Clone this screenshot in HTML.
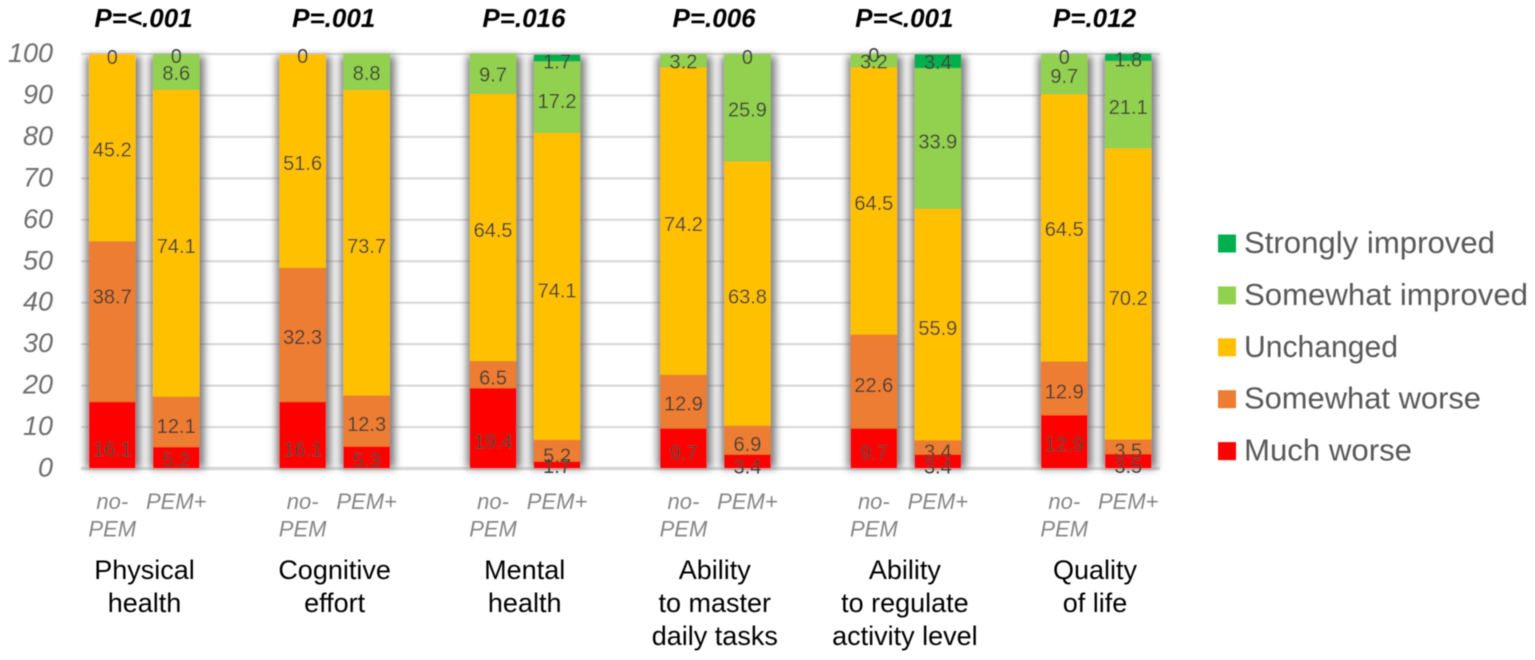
<!DOCTYPE html>
<html lang="en">
<head>
<meta charset="utf-8">
<title>Change by PEM status</title>
<style>
html,body{margin:0;padding:0;background:#fff;width:1535px;height:660px;overflow:hidden}
svg{display:block}
text{font-family:"Liberation Sans",sans-serif}
</style>
</head>
<body>
<svg id="chart" xmlns="http://www.w3.org/2000/svg" width="1535" height="660" viewBox="0 0 1535 660">
  <defs>
    <filter id="soft" x="0" y="0" width="100%" height="100%"><feGaussianBlur stdDeviation="0.55"/></filter>
    <filter id="shadow" x="-50%" y="-10%" width="200%" height="120%"><feGaussianBlur stdDeviation="4"/></filter>
  </defs>
  <g id="root" filter="url(#soft)"></g>
</svg>
<script>
const categories = [["Physical","health"],["Cognitive","effort"],["Mental","health"],["Ability","to master","daily tasks"],["Ability","to regulate","activity level"],["Quality","of life"]];
const pValues = ["P=<.001","P=.001","P=.016","P=.006","P=<.001","P=.012"];
const groups = [["no-","PEM"],["PEM+"]];
const yTicks = [0,10,20,30,40,50,60,70,80,90,100];

const seriesMuchWorse = [16.1,5.2,16.1,5.3,19.4,1.7,9.7,3.4,9.7,3.4,12.9,3.5];
const seriesSomewhatWorse = [38.7,12.1,32.3,12.3,6.5,5.2,12.9,6.9,22.6,3.4,12.9,3.5];
const seriesUnchanged = [45.2,74.1,51.6,73.7,64.5,74.1,74.2,63.8,64.5,55.9,64.5,70.2];
const seriesSomewhatImproved = [0,8.6,0,8.8,9.7,17.2,3.2,25.9,3.2,33.9,9.7,21.1];
const seriesStronglyImproved = [null,0,null,null,null,1.7,null,0,0,3.4,0,1.8];
const seriesNames = ["Much worse","Somewhat worse","Unchanged","Somewhat improved","Strongly improved"];
const seriesValues = [seriesMuchWorse,seriesSomewhatWorse,seriesUnchanged,seriesSomewhatImproved,seriesStronglyImproved];

const seriesColors = ["#FF0000","#ED7D31","#FFC000","#92D050","#00B050"];
const labelNudges = [
  [14,2,14,2.5,13,1,4,5,4,5,2,5],
  [-25,4,2,3,3,5,2,4,3.5,4,3,4],
  [2,3,2,3,2.5,4,3,3,2,3.5,1,4],
  [3,1,2,1,1,4,1,2,1,3,2,2],
  [0,2,0,0,0,3.5,0,3,1,1,3,2]
];
const legendWidths = {"Strongly improved":251,"Somewhat improved":284,"Unchanged":154,"Somewhat worse":237,"Much worse":168};

const NS = "http://www.w3.org/2000/svg";
const root = document.getElementById("root");
const BAR_W = 46.5;
function yScale(v){ return 468.5 - 4.145 * v; }
function xBar(g, i){ return 89 + 190.4 * g + (i ? 64 : 0); }
function xGroupCenter(g){ return 143.5 + 190.2 * g; }
function xCategoryCenter(g){ return 144.5 + 190.1 * g; }
function mk(tag, attrs, text){
  const el = document.createElementNS(NS, tag);
  for (const k in attrs) el.setAttribute(k, attrs[k]);
  if (text !== undefined) el.textContent = text;
  root.appendChild(el);
  return el;
}

// gridlines
yTicks.forEach(function(t){
  const line = mk("line", {x1:81, x2:1160, y1:yScale(t), y2:yScale(t), stroke:"#d9d9d9", "stroke-width": t === 0 ? 3.5 : 2.2});
  
  
  const lab = mk("text", {x:53, y:yScale(t) + 8, "text-anchor":"end", "font-size":27, "font-style":"italic", fill:"#6e6e6e"}, String(t));
  
  
});

// shadows behind bars
seriesMuchWorse.forEach(function(_, n){
  const g = Math.floor(n / 2), i = n % 2;
  let total = 0;
  seriesValues.forEach(function(s){ total += s[n] || 0; });
  const sh = mk("rect", {x:xBar(g,i) - 3, y:yScale(total) + 2, width:BAR_W + 8, height:yScale(0) - yScale(total) - 2, fill:"#666", opacity:0.85, filter:"url(#shadow)"});
  
  
});

// bars
const labelQueue = [];
seriesMuchWorse.forEach(function(_, n){
  const g = Math.floor(n / 2), i = n % 2;
  let base = 0;
  seriesValues.forEach(function(s, si){
    const v = s[n];
    if (v === null) return;
    const rect = mk("rect", {x:xBar(g,i), y:yScale(base + v), width:BAR_W, height:Math.max(0, yScale(base) - yScale(base + v)), fill:seriesColors[si]});
    
    
    labelQueue.push({x:xBar(g,i) + BAR_W / 2, y:yScale(base + v / 2) + labelNudges[si][n] + 7, v:v});
    base += v;
  });
});

// value labels
labelQueue.forEach(function(q){
  const t = mk("text", {x:q.x, y:q.y, "text-anchor":"middle", "font-size":20, fill:"#3d3d38"}, String(q.v));
  
  
});

// group + category labels
categories.forEach(function(lines, g){
  const p = mk("text", {x:xGroupCenter(g), y:27, "text-anchor":"middle", "font-size":26, "font-weight":"bold", "font-style":"italic", fill:"#000"}, pValues[g]);
  
  

  groups.forEach(function(gl, i){
    gl.forEach(function(word, w){
      const t = mk("text", {x:xBar(g,i) + BAR_W / 2, y:509 + 27.5 * w, "text-anchor":"middle", "font-size":22, "font-style":"italic", fill:"#858585"}, word);
      
      
    });
  });

  lines.forEach(function(line, l){
    const t = mk("text", {x:xCategoryCenter(g), y:579 + 33 * l, "text-anchor":"middle", "font-size":27, fill:"#000"}, line);
    
    
  });
});

// legend
seriesNames.slice().reverse().forEach(function(name, idx){
  const cy = 243.5 + 51.9 * idx;
  const sw = mk("rect", {x:1218, y:cy - 9, width:18, height:18, fill:seriesColors[4 - idx]});
  
  
  const t = mk("text", {x:1244, y:cy + 9.5, "font-size":31, fill:"#595959", textLength:legendWidths[name], lengthAdjust:"spacingAndGlyphs"}, name);
  
  
});
</script>
</body>
</html>
